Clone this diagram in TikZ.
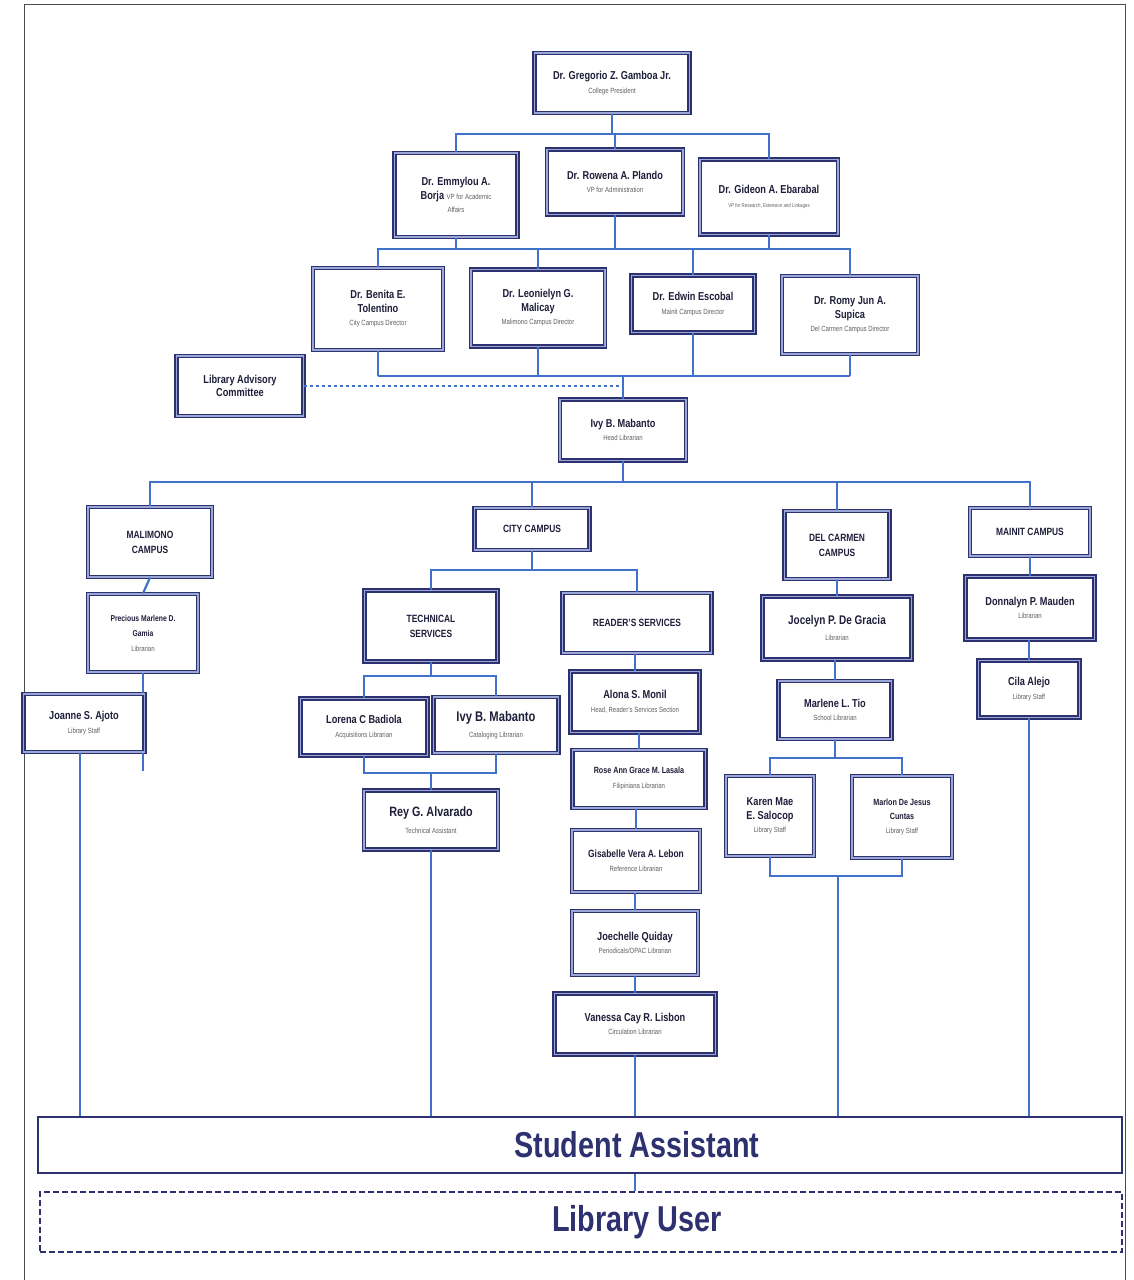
\documentclass[tikz,border=0pt]{standalone}
\usepackage{fontspec}
\setmainfont{Liberation Sans}[FakeStretch=0.8]
\definecolor{boxnavy}{HTML}{2E3170}
\definecolor{boxlight}{HTML}{9AA6D6}
\definecolor{linkblue}{HTML}{3F72C8}
\definecolor{namecol}{HTML}{1E1E3A}
\definecolor{rolegray}{HTML}{606060}
\newcommand{\role}[1]{{\fontsize{7.5}{9}\selectfont\mdseries\color{rolegray}#1}}
\begin{document}
\begin{tikzpicture}[x=1pt,y=-1pt,
	box/.style={draw=boxnavy,line width=1.3pt,double=boxlight,double distance=1.8pt,fill=white,align=center,inner sep=2pt,text=namecol,font=\bfseries\fontsize{11.5}{13.5}\selectfont},
	unit/.style={box,font=\bfseries\fontsize{10.5}{15}\selectfont},
	link/.style={draw=linkblue,line width=2.2pt},
	drop/.style={draw=linkblue,line width=1.3pt}]
	\useasboundingbox (0,0) rectangle (1134,1280);
	\draw[line width=0.8pt,black!70] (24,1280)--(24,4)--(1125,4)--(1125,1280);
	%administration
	\node[box,minimum width=155pt,minimum height=60pt] (pres) at (612,83) {Dr. Gregorio Z. Gamboa Jr.\\\role{College President}};
	\node[box,minimum width=123pt,minimum height=84pt] (vpa) at (456,195) {Dr. Emmylou A.\\Borja \role{VP for Academic}\\\role{Affairs}};
	\node[box,minimum width=136pt,minimum height=65pt] (vpb) at (615,182) {Dr. Rowena A. Plando\\\role{VP for Administration}};
	\node[box,minimum width=138pt,minimum height=75pt] (vpc) at (769,197) {Dr. Gideon A. Ebarabal\\{\fontsize{5.5}{7}\selectfont\mdseries\color{rolegray}VP for Research, Extension and Linkages}};
	\node[box,minimum width=130pt,minimum height=82pt] (dira) at (378,309) {Dr. Benita E.\\Tolentino\\\role{City Campus Director}};
	\node[box,minimum width=134pt,minimum height=77pt] (dirb) at (538,308) {Dr. Leonielyn G.\\Malicay\\\role{Malimono Campus Director}};
	\node[box,minimum width=123pt,minimum height=57pt] (dirc) at (693,304) {Dr. Edwin Escobal\\\role{Mainit Campus Director}};
	\node[box,minimum width=136pt,minimum height=78pt] (dird) at (850,315) {Dr. Romy Jun A.\\Supica\\\role{Del Carmen Campus Director}};
	\node[box,minimum width=127pt,minimum height=60pt] (lac) at (240,386) {Library Advisory\\Committee};
	\node[box,minimum width=126pt,minimum height=61pt] (head) at (623,430) {Ivy B. Mabanto\\\role{Head Librarian}};
	%campuses
	\node[unit,minimum width=124pt,minimum height=70pt] (malimono) at (150,542) {MALIMONO\\CAMPUS};
	\node[unit,minimum width=115pt,minimum height=42pt] (city) at (532,529) {CITY CAMPUS};
	\node[unit,minimum width=105pt,minimum height=68pt] (delcarmen) at (837,545) {DEL CARMEN\\CAMPUS};
	\node[unit,minimum width=120pt,minimum height=48pt] (mainit) at (1030,532) {MAINIT CAMPUS};
	%malimono
	\node[box,minimum width=110pt,minimum height=78pt,font=\bfseries\fontsize{8.5}{15}\selectfont] (mlib) at (143,633) {Precious Marlene D.\\Gamia\\\role{Librarian}};
	\node[box,minimum width=121pt,minimum height=58pt] (mstaff) at (84,723) {Joanne S. Ajoto\\\role{Library Staff}};
	%city
	\node[unit,minimum width=133pt,minimum height=71pt] (tech) at (431,626) {TECHNICAL\\SERVICES};
	\node[unit,minimum width=149pt,minimum height=60pt] (read) at (637,623) {READER'S SERVICES};
	\node[box,minimum width=127pt,minimum height=57pt] (acq) at (364,727) {Lorena C Badiola\\\role{Acquisitions Librarian}};
	\node[box,minimum width=125pt,minimum height=56pt,font=\bfseries\fontsize{14}{16}\selectfont] (cat) at (496,725) {Ivy B. Mabanto\\\role{Cataloging Librarian}};
	\node[box,minimum width=134pt,minimum height=59pt,font=\bfseries\fontsize{13.5}{17}\selectfont] (tass) at (431,820) {Rey G. Alvarado\\\role{Technical Assistant}};
	\node[box,minimum width=129pt,minimum height=61pt] (rs1) at (635,702) {Alona S. Monil\\\role{Head, Reader's Services Section}};
	\node[box,minimum width=133pt,minimum height=58pt,font=\bfseries\fontsize{9}{15}\selectfont] (rs2) at (639,779) {Rose Ann Grace M. Lasala\\\role{Filipiniana Librarian}};
	\node[box,minimum width=128pt,minimum height=62pt,font=\bfseries\fontsize{10.5}{14}\selectfont] (rs3) at (636,861) {Gisabelle Vera A. Lebon\\\role{Reference Librarian}};
	\node[box,minimum width=126pt,minimum height=64pt] (rs4) at (635,943) {Joechelle Quiday\\\role{Periodicals/OPAC Librarian}};
	\node[box,minimum width=161pt,minimum height=61pt] (rs5) at (635,1024) {Vanessa Cay R. Lisbon\\\role{Circulation Librarian}};
	%del carmen
	\node[box,minimum width=149pt,minimum height=63pt,font=\bfseries\fontsize{12.5}{16}\selectfont] (dlib) at (837,628) {Jocelyn P. De Gracia\\\role{Librarian}};
	\node[box,minimum width=113pt,minimum height=58pt] (dsch) at (835,710) {Marlene L. Tio\\\role{School Librarian}};
	\node[box,minimum width=88pt,minimum height=80pt] (dst1) at (770,816) {Karen Mae\\E. Salocop\\\role{Library Staff}};
	\node[box,minimum width=100pt,minimum height=82pt,font=\bfseries\fontsize{9}{14}\selectfont] (dst2) at (902,817) {Marlon De Jesus\\Cuntas\\\role{Library Staff}};
	%mainit
	\node[box,minimum width=129pt,minimum height=63pt] (nlib) at (1030,608) {Donnalyn P. Mauden\\\role{Librarian}};
	\node[box,minimum width=101pt,minimum height=57pt] (nst) at (1029,689) {Cila Alejo\\\role{Library Staff}};
	%bottom
	\node[draw=boxnavy,line width=2.6pt,minimum width=1084pt,minimum height=56pt,text=boxnavy,font=\bfseries\fontsize{36}{40}\selectfont] (sa) at (580,1145) {\hspace*{114pt}Student Assistant};
	\node[draw=boxnavy,line width=2pt,dash pattern=on 6pt off 3pt,minimum width=1082pt,minimum height=60pt,text=boxnavy,font=\bfseries\fontsize{36}{40}\selectfont] (lu) at (581,1222) {\hspace*{112pt}Library User};
	%connectors
	\path (615,249) coordinate (b2)
	(623,376) coordinate (b3)
	(623,482) coordinate (b4)
	(532,570) coordinate (b5)
	(431,676) coordinate (b6)
	(431,773) coordinate (b7)
	(835,758) coordinate (b8)
	(838,876) coordinate (b9);
	\draw[link] (pres.south)--++(0,20) coordinate (b1);
	\draw[link] (vpa.north) |- (b1) -| (vpc.north);
	\draw[link] (vpb.north |- b1)--(vpb.north);
	\foreach \n in {vpa,vpb,vpc}
	\draw[link] (\n.south)--(\n.south |- b2);
	\draw[link] (dira.north) |- (b2) -| (dird.north);
	\foreach \n in {dirb,dirc}
	\draw[link] (\n.north |- b2)--(\n.north);
	\foreach \n in {dira,dirb,dirc,dird}
	\draw[link] (\n.south)--(\n.south |- b3);
	\draw[link] (dira.south |- b3)--(dird.south |- b3);
	\draw[link] (b3)--(head.north);
	\draw[link,line width=1.6pt,dashed] (lac.east)--(lac.east -| head.north);
	\draw[link] (head.south)--(b4);
	\draw[link] (malimono.north) |- (b4) -| (mainit.north);
	\foreach \n in {city,delcarmen}
	\draw[link] (\n.north |- b4)--(\n.north);
	%malimono
	\draw[link] (malimono.south)--(mlib.north);
	\draw[link] (mlib.south)--(mlib.south |- mstaff.north);
	\draw[link] (mlib.south |- mstaff.south)--++(0,18);
	\draw[drop] (mstaff.south -| 80,0)--(sa.north -| 80,0);
	%city
	\draw[link] (city.south)--(b5);
	\draw[link] (tech.north) |- (b5) -| (read.north);
	\draw[link] (tech.south)--(b6);
	\draw[link] (acq.north) |- (b6) -| (cat.north);
	\draw[link] (acq.south) |- (b7) -| (cat.south);
	\draw[link] (b7)--(tass.north);
	\draw[drop] (tass.south)--(tass.south |- sa.north);
	\foreach \a/\b in {read/rs1,rs1/rs2,rs2/rs3,rs3/rs4,rs4/rs5}
	\draw[link] (\b.north |- \a.south)--(\b.north);
	\draw[drop] (rs5.south)--(rs5.south |- sa.north);
	%del carmen
	\draw[link] (delcarmen.south)--(dlib.north);
	\draw[link] (dsch.north |- dlib.south)--(dsch.north);
	\draw[link] (dsch.south)--(b8);
	\draw[link] (dst1.north) |- (b8) -| (dst2.north);
	\draw[link] (dst1.south) |- (b9) -| (dst2.south);
	\draw[drop] (b9)--(b9 |- sa.north);
	%mainit
	\draw[link] (mainit.south)--(nlib.north);
	\draw[link] (nst.north |- nlib.south)--(nst.north);
	\draw[drop] (nst.south)--(nst.south |- sa.north);
	\draw[drop] (sa.south -| rs5.south)--(lu.north -| rs5.south);
\end{tikzpicture}
\end{document}
